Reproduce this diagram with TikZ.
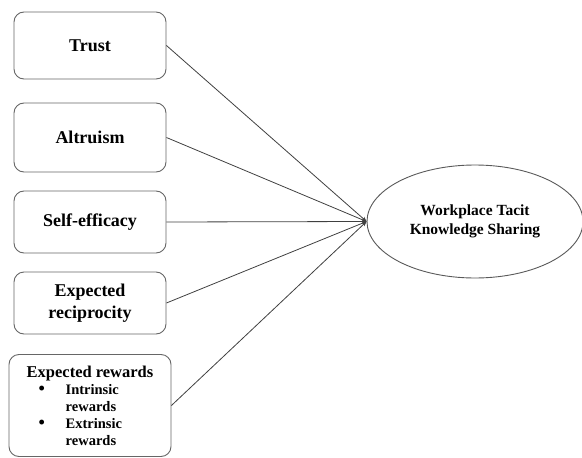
\documentclass[tikz,border=0pt]{standalone}
\usepackage{fontspec}
\setmainfont{Liberation Serif}
\usetikzlibrary{shapes.geometric, arrows.meta}

\newcommand{\punkt}{\makebox[27pt][l]{\smash{\fontsize{18}{17}\selectfont\textbullet}}}

\begin{document}
\begin{tikzpicture}[
        x=1pt, y=1pt,
        kasten/.style = {rectangle, rounded corners=10pt, draw=black!60, line width=0.9pt, minimum width=152pt, inner sep=0pt, align=center, font=\fontsize{18}{22}\selectfont\bfseries},
        oval/.style = {ellipse, draw=black!65, line width=0.9pt, minimum width=216pt, minimum height=113pt, align=center, font=\fontsize{15.5}{18.5}\selectfont\bfseries},
        pfeil/.style = {draw=black!75, line width=0.8pt, -{Stealth[length=5pt, width=4pt]}}
    ]
    \useasboundingbox (0,0) rectangle (582,-458);

    %Kaesten
    \node at(90,-45.5)(trust)[kasten, minimum height=67pt]{Trust};
    \node at(90,-137.5)(altruism)[kasten, minimum height=69pt]{Altruism};
    \node at(90,-222)(efficacy)[kasten, minimum height=62pt]{Self-efficacy};
    \node at(90,-303)(reciprocity)[kasten, minimum height=62pt]{Expected\\reciprocity};
    \node at(90,-405.5)(rewards)[kasten, minimum height=102pt, minimum width=162pt, align=left,
        font=\fontsize{14.5}{17}\selectfont\bfseries]{%
        {\fontsize{16.5}{17}\selectfont Expected rewards}\\
        \hspace*{12pt}\punkt Intrinsic\\
        \hspace*{39pt}rewards\\
        \hspace*{12pt}\punkt Extrinsic\\
        \hspace*{39pt}rewards};

    %Ellipse
    \node at(475,-221.5)(sharing)[oval]{Workplace Tacit\\Knowledge Sharing};

    %Linien
    \draw[pfeil] (trust.east)       -- (sharing.west);
    \draw[pfeil] (altruism.east)    -- (sharing.west);
    \draw[pfeil] (efficacy.east)    -- (sharing.west);
    \draw[pfeil] (reciprocity.east) -- (sharing.west);
    \draw[pfeil] (rewards.east)     -- (sharing.west);

\end{tikzpicture}
\end{document}
